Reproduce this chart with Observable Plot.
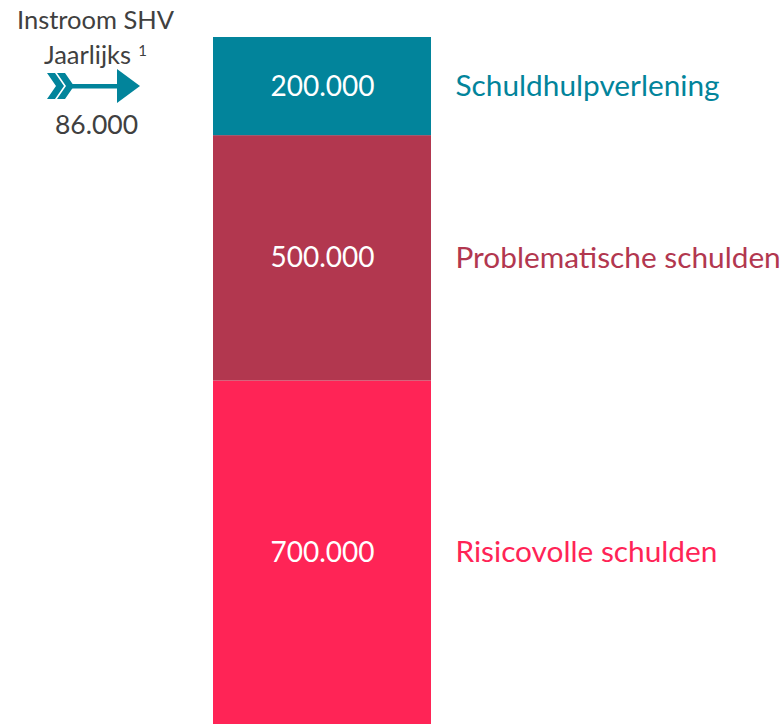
<!DOCTYPE html>
<html>
<head>
<meta charset="utf-8">
<script src="https://cdn.jsdelivr.net/npm/d3@7"></script>
<script src="https://cdn.jsdelivr.net/npm/@observablehq/plot@0.6"></script>
<style>
  html, body { margin: 0; padding: 0; background: #fff; }
  #chart svg { display: block; }
</style>
</head>
<body>
<div id="chart"></div>
<script>
// Data (stack order: bottom to top)
const categories = ["Risicovolle schulden", "Problematische schulden", "Schuldhulpverlening"];
const values = [700000, 500000, 200000];
const valueLabels = ["700.000", "500.000", "200.000"];
const colors = ["#FF2456", "#B2374F", "#02849B"];
const inflowTitle = ["Instroom SHV", "Jaarlijks"];
const inflowNote = "1";
const inflowValue = "86.000";

const rows = categories.map((c, i) => ({category: c, value: values[i], label: valueLabels[i], bar: "Totaal"}));

const font = "Lato, 'Open Sans', sans-serif";
const gray = "#404040";
const teal = colors[2];

function arrowMark() {
  const g = d3.create("svg:g");
  const chevron = a => [[a,73],[a+8,73],[a+17,86],[a+8,99],[a,99],[a+9,86]];
  for (const a of [47, 57]) {
    g.append("polygon").attr("points", chevron(a).map(p => p.join(",")).join(" ")).attr("fill", teal);
  }
  g.append("rect").attr("x", 68).attr("y", 84).attr("width", 52).attr("height", 4.5).attr("fill", teal);
  g.append("polygon").attr("points", "117,69 140,86 117,103").attr("fill", teal);
  return g.node();
}

const small = {frameAnchor: "top-left", text: d => d, fill: gray, textAnchor: "middle", lineAnchor: "middle"};

const chart = Plot.plot({
  width: 784,
  height: 724,
  margin: 0,
  style: {fontFamily: font, background: "white"},
  x: {type: "band", domain: ["Totaal"], range: [213, 431], padding: 0, axis: null},
  y: {domain: [0, 1400000], range: [724, 37], axis: null},
  color: {domain: categories, range: colors},
  marks: [
    Plot.barY(rows, Plot.stackY({x: "bar", y: "value", fill: "category"})),
    Plot.text(rows, Plot.stackY({x: "bar", y: "value", text: "label", fill: "white", fontSize: 28})),
    Plot.text(rows, Plot.stackY({x: "bar", y: "value", text: "category", fill: "category", fontSize: 29.8, textAnchor: "start", dx: 133})),
    Plot.text([inflowTitle[0]], {...small, dx: 95, dy: 20, fontSize: 25.5}),
    Plot.text([inflowTitle[1]], {...small, dx: 87, dy: 55, fontSize: 25.5}),
    Plot.text([inflowNote], {...small, dx: 142, dy: 51, fontSize: 15}),
    Plot.text([inflowValue], {...small, dx: 96, dy: 125, fontSize: 26.5}),
    arrowMark
  ]
});
document.getElementById("chart").appendChild(chart);
</script>
</body>
</html>
